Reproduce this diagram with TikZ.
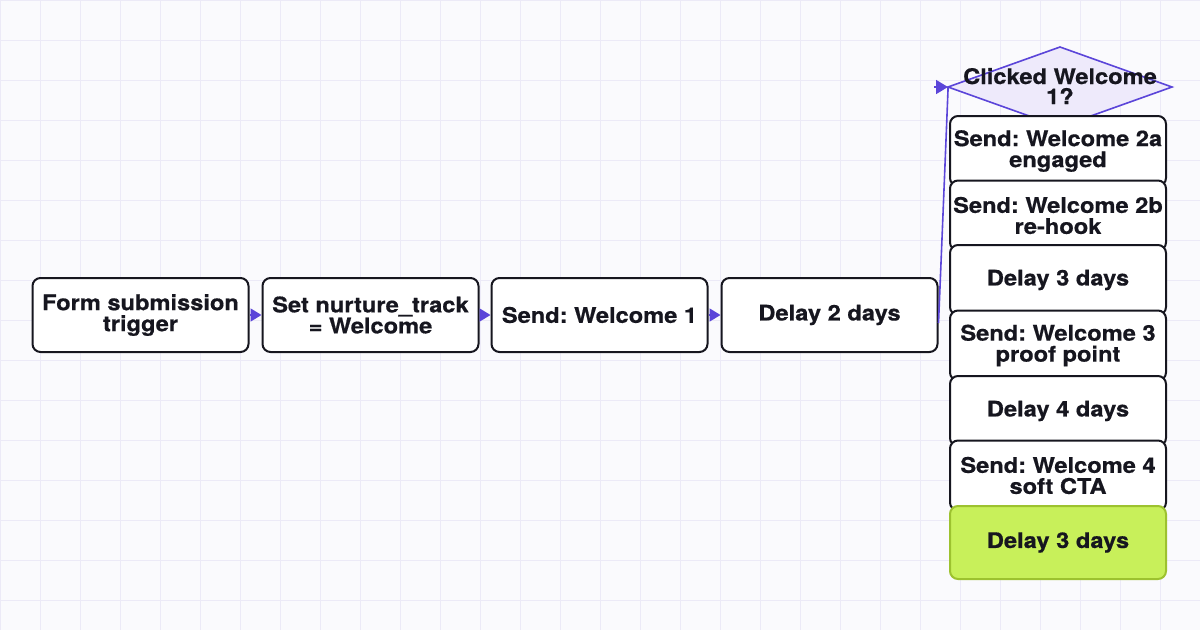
\documentclass[tikz,border=0pt]{standalone}
\usepackage{fontspec}
\setmainfont{TeX Gyre Heros}[BoldFeatures={FakeStretch=1.1,FakeBold=0.6}]
\usetikzlibrary{arrows.meta}
\definecolor{bgc}{HTML}{FAFAFD}
\definecolor{gridc}{HTML}{ECEAF7}
\definecolor{ink}{HTML}{16161F}
\definecolor{purp}{HTML}{5B45D9}
\definecolor{lav}{HTML}{EEEAFB}
\definecolor{lime}{HTML}{C8F05A}
\definecolor{limed}{HTML}{9DC22F}
\tikzset{
  box/.style={draw=ink, line width=2pt, fill=white, rounded corners=8pt,
    minimum width=216pt, align=center, inner sep=0pt,
    font=\frenchspacing\bfseries\fontsize{21.5}{21}\selectfont, text=ink},
  rowbox/.style={box, minimum height=74pt},
  stackbox/.style={box, minimum height=70pt},
  conn/.style={draw=purp, line width=1.6pt, -{Triangle[length=11pt,width=13pt]}},
}
\begin{document}
\begin{tikzpicture}[x=1pt,y=-1pt]
\useasboundingbox (0,0) rectangle (1200,630);
\fill[bgc] (0,0) rectangle (1200,630);
\foreach \i in {0,40,...,1200} \draw[gridc, line width=1pt] (\i,0) -- (\i,630);
\foreach \j in {0,40,...,600} \draw[gridc, line width=1pt] (0,\j) -- (1200,\j);

% main row
\node[rowbox] (form) at (140.5,315) {Form submission\\trigger};
\node[rowbox] (set) at (370.5,315) {Set nurture\_track\\= Welcome};
\node[rowbox] (w1) at (599.5,315) {Send: Welcome 1};
\node[rowbox] (d2) at (829.5,315) {Delay 2 days};

% diamond
\coordinate (dt) at (1060,47);
\coordinate (dr) at (1172,87);
\coordinate (db) at (1060,127);
\coordinate (dl) at (948,87);
\draw[purp, fill=lav, line width=1.6pt, line join=miter] (dt) -- (dr) -- (db) -- (dl) -- cycle;
\node[font=\frenchspacing\bfseries\fontsize{21.5}{20}\selectfont, text=ink, align=center] (dia) at (1060,86) {Clicked Welcome\\1?};

% stack
\node[stackbox] (s2a) at (1058,151) {Send: Welcome 2a\\engaged};
\node[stackbox] (s2b) at (1058,215.5) {Send: Welcome 2b\\re-hook};
\node[stackbox] (sd3) at (1058,280) {Delay 3 days};
\node[stackbox] (s3) at (1058,345.5) {Send: Welcome 3\\proof point};
\node[stackbox] (sd4) at (1058,411) {Delay 4 days};
\node[stackbox] (s4) at (1058,475.5) {Send: Welcome 4\\soft CTA};
\node[stackbox, draw=limed, fill=lime, minimum height=73pt] (sd3g) at (1058,542.5) {Delay 3 days};

% connectors
\draw[conn] (form.east) -- (set.west);
\draw[conn] (set.east) -- (w1.west);
\draw[conn] (w1.east) -- (d2.west);
\coordinate (ctop) at (948,90);
\coordinate (atail) at (934,87);
\draw[purp, line width=1.6pt] ([yshift=-8pt]d2.east) .. controls (942,240) and (946,140) .. (ctop) -- (dl);
\draw[conn, -{Triangle[length=12pt,width=14pt]}] (atail) -- (dl);
\end{tikzpicture}
\end{document}
